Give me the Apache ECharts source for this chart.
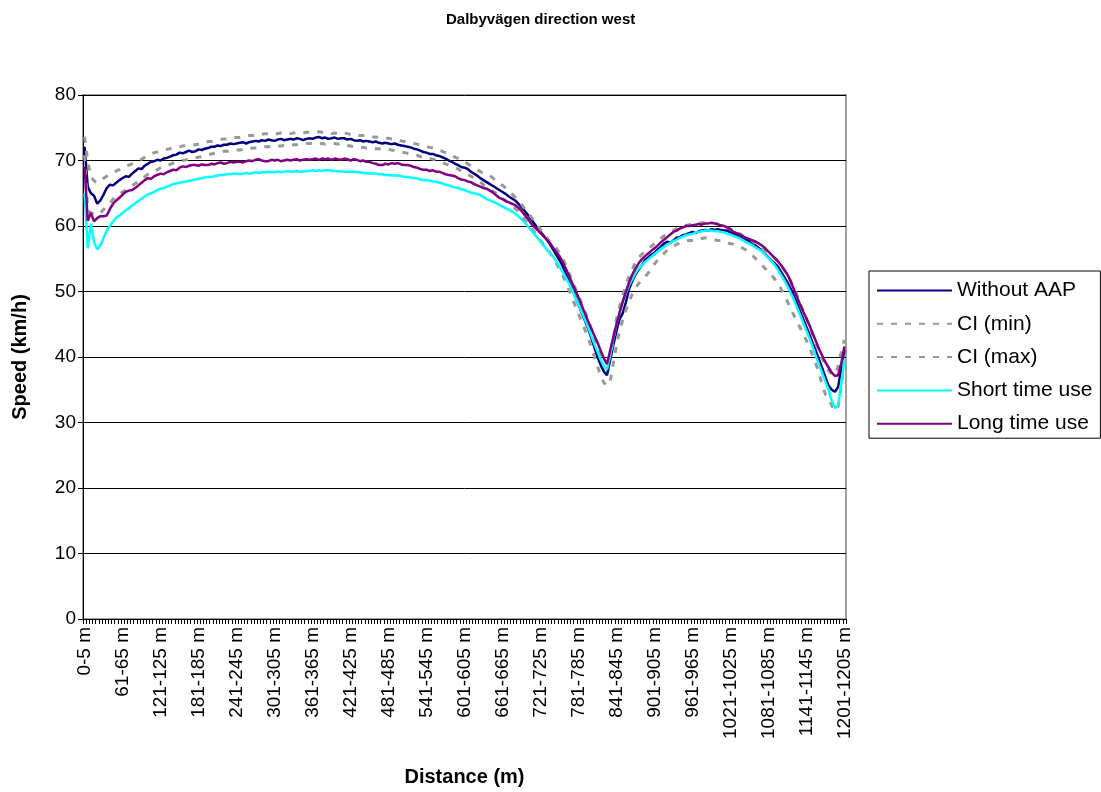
<!DOCTYPE html>
<html>
<head>
<meta charset="utf-8"/>
<title>Dalbyvägen direction west</title>
<script src="https://cdn.jsdelivr.net/npm/echarts@6/dist/echarts.min.js"></script>
<style>html,body{margin:0;padding:0;background:#fff;}</style>
</head>
<body>
<div id="chart" style="width:1101px;height:792px;"></div>
<script type="text/javascript">

// 5 m bins along the road: 0-5 m, 6-10 m, ... 1201-1205 m
var categories = ['0-5 m'];
for (var k = 1; k <= 240; k++) {
    categories.push((5 * k + 1) + '-' + (5 * k + 5) + ' m');
}

var yTicks = [0, 10, 20, 30, 40, 50, 60, 70, 80];

// one row = 12 bins (one labelled tick)
var withoutAAP = [
    72.1, 66.0, 65.0, 64.6, 63.4, 63.9, 64.8, 65.8, 66.3, 66.2, 66.6, 67.0,
    67.3, 67.6, 67.5, 68.0, 68.4, 68.8, 68.7, 69.2, 69.5, 69.8, 69.9, 70.1,
    70.0, 70.3, 70.4, 70.6, 70.8, 70.9, 71.2, 71.1, 71.3, 71.5, 71.3, 71.4,
    71.7, 71.6, 71.8, 71.9, 72.1, 72.1, 72.3, 72.2, 72.4, 72.4, 72.6, 72.5,
    72.6, 72.7, 72.8, 72.6, 72.8, 72.9, 73.0, 72.9, 73.1, 73.0, 73.2, 73.1,
    73.0, 73.2, 73.3, 73.1, 73.2, 73.3, 73.2, 73.4, 73.3, 73.1, 73.3, 73.4,
    73.3, 73.5, 73.6, 73.4, 73.5, 73.3, 73.4, 73.5, 73.3, 73.4, 73.4, 73.2,
    73.3, 73.1, 73.0, 73.1, 72.9, 73.0, 72.9, 72.8, 72.9, 72.7, 72.6, 72.7,
    72.6, 72.5, 72.6, 72.4, 72.3, 72.2, 72.1, 72.0, 71.8, 71.7, 71.5, 71.3,
    71.2, 71.0, 71.0, 70.8, 70.7, 70.5, 70.3, 70.0, 69.8, 69.5, 69.3, 69.0,
    68.9, 68.7, 68.3, 68.0, 67.7, 67.3, 67.0, 66.7, 66.4, 66.1, 65.8, 65.5,
    65.2, 64.9, 64.5, 64.2, 63.9, 63.4, 62.9, 62.3, 61.7, 61.1, 60.4, 59.7,
    59.1, 58.5, 57.9, 57.2, 56.4, 55.6, 54.8, 53.9, 52.7, 51.5, 50.4, 49.2,
    48.0, 46.8, 45.6, 44.4, 43.0, 41.5, 40.0, 38.8, 37.8, 37.2, 39.5, 41.8,
    44.0, 45.8, 46.7, 48.4, 50.4, 51.6, 52.6, 53.3, 54.0, 54.8, 55.2, 55.6,
    55.9, 56.4, 56.8, 57.3, 57.6, 57.4, 57.8, 58.2, 58.3, 58.6, 58.7, 58.9,
    59.1, 58.9, 59.2, 59.3, 59.4, 59.3, 59.5, 59.4, 59.5, 59.4, 59.3, 59.3,
    59.0, 58.8, 58.6, 58.4, 58.1, 57.9, 57.7, 57.3, 57.0, 56.6, 56.3, 55.7,
    55.2, 54.7, 54.3, 53.8, 53.0, 52.2, 51.4, 50.5, 49.4, 48.2, 47.0, 45.8,
    44.6, 43.4, 42.1, 40.9, 39.6, 38.3, 36.9, 35.6, 35.0, 34.7, 35.4, 38.2,
    41.1
];

var ciMin = [
    70.8, 62.4, 62.0, 61.9, 61.7, 62.0, 62.5, 63.0, 63.5, 64.1, 64.4, 64.8,
    65.2, 65.5, 65.8, 66.1, 66.5, 66.8, 67.1, 67.5, 67.9, 68.2, 68.4, 68.6,
    68.9, 69.1, 69.2, 69.4, 69.6, 69.8, 69.9, 70.0, 70.1, 70.2, 70.3, 70.4,
    70.5, 70.6, 70.7, 70.9, 71.0, 71.1, 71.2, 71.3, 71.4, 71.4, 71.5, 71.5,
    71.6, 71.6, 71.7, 71.8, 71.8, 71.9, 71.9, 72.0, 72.0, 72.1, 72.1, 72.1,
    72.2, 72.2, 72.2, 72.3, 72.3, 72.3, 72.4, 72.4, 72.5, 72.5, 72.6, 72.6,
    72.6, 72.5, 72.6, 72.6, 72.5, 72.5, 72.6, 72.6, 72.5, 72.6, 72.4, 72.3,
    72.2, 72.1, 72.0, 72.0, 72.0, 71.9, 71.9, 71.9, 71.8, 71.8, 71.8, 71.7,
    71.7, 71.6, 71.5, 71.4, 71.3, 71.2, 71.1, 71.0, 70.9, 70.8, 70.6, 70.5,
    70.4, 70.3, 70.2, 70.1, 69.9, 69.7, 69.5, 69.3, 69.1, 68.9, 68.7, 68.4,
    68.2, 67.9, 67.6, 67.3, 67.0, 66.7, 66.3, 66.0, 65.6, 65.3, 65.0, 64.6,
    64.2, 63.9, 63.5, 63.1, 62.7, 62.2, 61.6, 61.0, 60.4, 59.8, 59.1, 58.4,
    57.8, 57.2, 56.6, 55.9, 55.1, 54.3, 53.4, 52.5, 51.4, 50.2, 49.0, 47.8,
    46.6, 45.4, 44.2, 43.0, 41.6, 40.1, 38.6, 37.2, 36.1, 35.6, 36.3, 39.0,
    41.8, 44.0, 45.7, 47.2, 48.5, 49.6, 50.5, 51.2, 51.8, 52.2, 52.8, 53.5,
    54.2, 54.8, 55.3, 55.8, 56.3, 56.6, 56.9, 57.2, 57.4, 57.6, 57.7, 57.8,
    57.8, 57.9, 58.0, 58.1, 58.2, 58.1, 58.0, 57.9, 57.8, 57.8, 57.6, 57.4,
    57.3, 57.2, 57.0, 56.8, 56.6, 56.3, 55.9, 55.5, 55.0, 54.5, 54.0, 53.5,
    53.1, 52.5, 51.9, 51.2, 50.4, 49.5, 48.5, 47.4, 46.4, 45.5, 44.5, 43.5,
    42.5, 41.4, 40.2, 38.9, 37.6, 35.6, 34.3, 33.6, 32.6, 31.8, 32.4, 35.5,
    39.8
];

var ciMax = [
    73.6, 69.8, 67.5, 66.9, 66.6, 66.9, 67.3, 67.6, 67.9, 68.1, 68.4, 68.6,
    68.9, 69.1, 69.3, 69.5, 69.7, 69.9, 70.2, 70.5, 70.8, 71.0, 71.2, 71.3,
    71.5, 71.6, 71.7, 71.8, 72.0, 72.1, 72.1, 72.2, 72.3, 72.3, 72.4, 72.4,
    72.5, 72.6, 72.7, 72.9, 72.9, 73.0, 73.1, 73.2, 73.3, 73.3, 73.4, 73.5,
    73.5, 73.5, 73.6, 73.7, 73.8, 73.8, 73.9, 73.9, 74.0, 74.1, 74.1, 74.1,
    74.0, 74.1, 74.2, 74.1, 74.2, 74.1, 74.2, 74.3, 74.3, 74.2, 74.3, 74.3,
    74.3, 74.3, 74.4, 74.3, 74.2, 74.2, 74.1, 74.2, 74.1, 74.2, 74.2, 74.1,
    74.0, 74.0, 73.8, 73.8, 73.8, 73.7, 73.7, 73.6, 73.6, 73.5, 73.5, 73.4,
    73.4, 73.3, 73.3, 73.2, 73.0, 72.9, 72.8, 72.7, 72.6, 72.5, 72.4, 72.2,
    72.1, 72.0, 71.9, 71.8, 71.6, 71.4, 71.2, 71.0, 70.8, 70.5, 70.3, 70.0,
    69.8, 69.5, 69.2, 68.9, 68.6, 68.3, 68.0, 67.8, 67.7, 67.3, 66.9, 66.5,
    66.2, 65.8, 65.4, 64.9, 64.4, 63.9, 63.3, 62.6, 62.0, 61.4, 60.8, 60.2,
    59.5, 58.8, 58.2, 57.6, 57.0, 56.6, 55.9, 55.1, 54.0, 52.8, 51.7, 50.5,
    49.4, 48.2, 47.0, 45.8, 44.4, 42.9, 41.5, 40.3, 39.4, 39.2, 40.2, 42.6,
    45.8, 47.7, 49.4, 51.0, 52.4, 53.4, 54.4, 55.1, 55.7, 56.1, 56.5, 56.9,
    57.3, 57.7, 58.1, 58.5, 58.8, 59.1, 59.3, 59.6, 59.8, 60.0, 60.1, 60.2,
    60.3, 60.4, 60.4, 60.5, 60.5, 60.5, 60.4, 60.4, 60.2, 60.1, 60.0, 59.8,
    59.5, 59.3, 59.1, 58.8, 58.5, 58.3, 58.0, 57.7, 57.3, 57.0, 56.6, 56.1,
    55.9, 55.5, 55.1, 54.7, 54.1, 53.3, 52.5, 51.6, 50.6, 49.4, 48.2, 47.0,
    45.8, 44.6, 43.4, 42.1, 40.9, 39.8, 38.7, 37.9, 37.4, 37.3, 38.5, 40.8,
    42.6
];

var shortTimeUse = [
    65.0, 56.6, 60.4, 57.5, 56.4, 57.1, 58.2, 59.3, 60.0, 60.7, 61.3, 61.6,
    62.0, 62.4, 62.7, 63.1, 63.5, 63.8, 64.2, 64.5, 64.8, 65.0, 65.2, 65.5,
    65.7, 65.8, 66.0, 66.2, 66.4, 66.5, 66.6, 66.7, 66.8, 66.9, 67.0, 67.1,
    67.2, 67.3, 67.4, 67.5, 67.5, 67.6, 67.7, 67.8, 67.8, 67.9, 67.9, 68.0,
    68.0, 67.9, 68.0, 68.1, 68.0, 68.1, 68.2, 68.1, 68.2, 68.2, 68.3, 68.2,
    68.2, 68.3, 68.2, 68.3, 68.4, 68.3, 68.3, 68.4, 68.3, 68.3, 68.4, 68.4,
    68.5, 68.4, 68.5, 68.4, 68.5, 68.5, 68.4, 68.4, 68.3, 68.4, 68.3, 68.3,
    68.3, 68.3, 68.2, 68.2, 68.1, 68.1, 68.0, 68.0, 68.0, 67.9, 67.9, 67.8,
    67.8, 67.7, 67.7, 67.7, 67.6, 67.5, 67.5, 67.4, 67.3, 67.3, 67.1, 67.0,
    67.0, 66.9, 66.8, 66.8, 66.6, 66.5, 66.3, 66.2, 66.0, 65.9, 65.8, 65.6,
    65.5, 65.3, 65.1, 65.0, 64.9, 64.7, 64.4, 64.1, 63.9, 63.7, 63.5, 63.2,
    63.0, 62.7, 62.5, 62.2, 61.9, 61.5, 61.0, 60.5, 60.0, 59.4, 58.8, 58.2,
    57.6, 57.0, 56.4, 55.9, 55.3, 54.6, 53.8, 53.0, 52.1, 51.2, 50.2, 49.1,
    48.0, 46.9, 45.8, 44.6, 43.3, 42.0, 40.8, 39.6, 38.6, 38.1, 40.2, 42.8,
    45.0, 46.8, 48.4, 49.8, 51.0, 51.9, 52.8, 53.5, 54.0, 54.5, 54.9, 55.3,
    55.7, 56.1, 56.5, 56.8, 57.2, 57.4, 57.7, 57.9, 58.2, 58.4, 58.6, 58.7,
    58.8, 59.0, 59.1, 59.2, 59.3, 59.3, 59.3, 59.2, 59.2, 59.1, 59.0, 58.8,
    58.7, 58.5, 58.3, 58.1, 57.8, 57.5, 57.3, 57.0, 56.7, 56.4, 56.1, 55.6,
    55.1, 54.6, 54.0, 53.3, 52.5, 51.7, 50.8, 49.8, 48.8, 47.6, 46.4, 45.2,
    44.0, 42.8, 41.5, 40.1, 38.8, 37.5, 36.2, 35.0, 33.3, 32.2, 32.6, 35.8,
    39.6
];

var longTimeUse = [
    69.1, 60.8, 62.0, 60.7, 61.2, 61.5, 61.5, 61.6, 62.6, 63.4, 63.9, 64.3,
    64.8, 65.2, 65.4, 65.5, 65.8, 66.2, 66.6, 67.0, 67.3, 67.2, 67.6, 67.8,
    68.0, 67.9, 68.2, 68.4, 68.6, 68.5, 68.9, 69.1, 69.0, 69.2, 69.3, 69.3,
    69.2, 69.4, 69.3, 69.3, 69.5, 69.4, 69.6, 69.7, 69.5, 69.6, 69.8, 69.7,
    69.8, 69.8, 69.7, 69.9, 70.0, 69.9, 70.1, 70.2, 70.0, 69.9, 69.9, 70.1,
    70.0, 70.1, 69.9, 70.0, 70.1, 70.0, 70.1, 70.2, 70.0, 70.1, 70.2, 70.1,
    70.2, 70.3, 70.1, 70.3, 70.2, 70.3, 70.1, 70.3, 70.2, 70.1, 70.3, 70.2,
    70.0, 70.2, 70.1, 69.9, 70.0, 69.8, 69.8, 69.6, 69.5, 69.3, 69.3, 69.5,
    69.4, 69.6, 69.5, 69.6, 69.4, 69.3, 69.3, 69.2, 69.0, 68.9, 68.7, 68.6,
    68.6, 68.4, 68.5, 68.3, 68.3, 68.1, 67.9, 67.8, 67.7, 67.6, 67.3, 67.1,
    67.0, 66.8, 66.7, 66.4, 66.2, 66.0, 65.8, 65.7, 65.4, 65.1, 64.7, 64.3,
    64.1, 63.8, 63.6, 63.4, 63.2, 62.8, 62.3, 61.7, 61.1, 60.4, 59.9, 59.4,
    58.9, 58.4, 57.9, 57.4, 56.7, 56.0, 55.4, 54.5, 53.5, 52.4, 51.3, 50.2,
    49.1, 47.9, 46.7, 45.5, 44.4, 43.3, 42.2, 41.0, 39.8, 38.9, 41.0, 43.0,
    45.0, 46.8, 48.5, 50.0, 51.4, 52.6, 53.5, 54.3, 54.9, 55.4, 55.8, 56.2,
    56.6, 57.0, 57.5, 57.9, 58.3, 58.7, 59.1, 59.3, 59.6, 59.8, 60.0, 60.0,
    60.1, 60.2, 60.3, 60.2, 60.4, 60.4, 60.5, 60.4, 60.3, 60.1, 60.0, 59.8,
    59.5, 59.1, 58.9, 58.7, 58.4, 58.2, 58.0, 57.8, 57.6, 57.3, 57.0, 56.6,
    56.1, 55.6, 55.1, 54.6, 54.0, 53.3, 52.6, 51.6, 50.4, 49.2, 48.0, 46.9,
    45.9, 44.8, 43.6, 42.4, 41.2, 40.2, 39.2, 38.4, 37.6, 37.1, 37.2, 39.0,
    41.6
];

var seriesNames = ['Without AAP', 'CI (min)', 'CI (max)', 'Short time use', 'Long time use'];
var seriesData = [withoutAAP, ciMin, ciMax, shortTimeUse, longTimeUse];
var seriesColors = ['#000080', '#999999', '#999999', '#00ffff', '#800080'];

var font = '"Liberation Sans", Arial, sans-serif';

var chart = echarts.init(document.getElementById('chart'));

var series = [];
for (var s = 0; s < seriesNames.length; s++) {
    var dashed = seriesNames[s].indexOf('CI') === 0;
    series.push({
        name: seriesNames[s],
        type: 'line',
        data: seriesData[s],
        symbol: 'none',
        smooth: false,
        itemStyle: { color: seriesColors[s] },
        lineStyle: {
            color: seriesColors[s],
            width: dashed ? 3 : 2.5,
            type: dashed ? [6, 8] : 'solid'
        }
    });
}

var option = {
    animation: false,
    backgroundColor: '#fff',
    textStyle: { fontFamily: font },
    title: {
        text: 'Dalbyvägen direction west',
        left: 446,
        top: 12,
        padding: 0,
        textStyle: { fontSize: 15, fontWeight: 'bold', color: '#000', fontFamily: font }
    },
    legend: {
        orient: 'vertical',
        left: 869,
        top: 271,
        padding: [9, 8, 4, 7],
        itemWidth: 75,
        itemHeight: 14,
        itemGap: 12.3,
        itemTextGap: 6,
        borderColor: '#000',
        borderWidth: 1,
        data: seriesNames,
        // hide the marker dot, keep only the line sample
        itemStyle: { color: 'rgba(0,0,0,0)', borderWidth: 0, opacity: 0 },
        textStyle: { fontSize: 21, lineHeight: 20, color: '#000', fontFamily: font }
    },
    grid: {
        left: 83,
        top: 95,
        width: 763,
        height: 525,
        show: true,
        borderColor: '#a0a0a0',
        borderWidth: 2,
        containLabel: false
    },
    xAxis: {
        type: 'category',
        data: categories,
        boundaryGap: true,
        name: 'Distance (m)',
        nameLocation: 'middle',
        nameGap: 148,
        nameTextStyle: { fontSize: 20, fontWeight: 'bold', color: '#000', fontFamily: font },
        axisLine: { lineStyle: { color: '#000', width: 1 } },
        axisTick: { show: true, interval: 0, length: 5, lineStyle: { color: '#000' } },
        axisLabel: { interval: 11, rotate: 90, margin: 8, fontSize: 19, color: '#000', fontFamily: font },
        splitLine: { show: false }
    },
    yAxis: {
        type: 'value',
        min: yTicks[0],
        max: yTicks[yTicks.length - 1],
        interval: 10,
        name: 'Speed (km/h)',
        nameLocation: 'middle',
        nameRotate: 90,
        nameGap: 53,
        nameTextStyle: { fontSize: 20, fontWeight: 'bold', color: '#000', fontFamily: font },
        axisLine: { show: true, lineStyle: { color: '#000', width: 1 } },
        axisTick: { show: true, length: 5, lineStyle: { color: '#000' } },
        axisLabel: { margin: 7, fontSize: 19, color: '#000', fontFamily: font },
        splitLine: { show: true, lineStyle: { color: '#000', width: 1 } }
    },
    series: series
};

chart.setOption(option);

</script>
</body>
</html>
